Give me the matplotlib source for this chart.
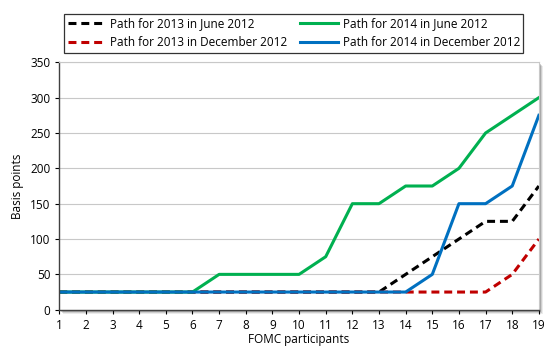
import matplotlib.pyplot as plt
from matplotlib.patches import Rectangle
import numpy as np

plt.rcParams['font.family'] = ['Open Sans', 'DejaVu Sans']

participants = np.arange(1, 20)
june_2013 = [25] * 13 + [50, 75, 100, 125, 125, 175]
dec_2013 = [25] * 17 + [50, 100]
june_2014 = [25] * 6 + [50, 50, 50, 50, 75, 150, 150, 175, 175, 200, 250, 275, 300]
dec_2014 = [25] * 14 + [50, 150, 150, 175, 275]

fig = plt.figure(figsize=(5.59, 3.56), dpi=100)
box = [0.106, 0.13, 0.858, 0.695]
ax = fig.add_axes(box)

# soft drop shadow behind the plot area
for off, a in [(4, 0.08), (3, 0.12), (2, 0.18)]:
    fig.patches.append(Rectangle((box[0] + off / 559, box[1] - off / 356), box[2], box[3],
                                 transform=fig.transFigure, facecolor='black',
                                 alpha=a, lw=0, zorder=-5))

ax.plot(participants, june_2013, color='black', lw=2.2, ls=(0, (2.6, 1.6)),
        label='Path for 2013 in June 2012')
ax.plot(participants, dec_2013, color='#c00000', lw=2.2, ls=(0, (2.6, 1.6)),
        label='Path for 2013 in December 2012')
ax.plot(participants, june_2014, color='#00b050', lw=2.2,
        label='Path for 2014 in June 2012')
ax.plot(participants, dec_2014, color='#0070c0', lw=2.2,
        label='Path for 2014 in December 2012')

ax.set_xlim(1, 19)
ax.set_ylim(0, 350)
ax.set_xticks(participants)
ax.set_yticks(np.arange(0, 351, 50))
ax.grid(axis='y', color='#c8c8c8', lw=0.8)
ax.set_axisbelow(True)
ax.tick_params(labelsize=8.5, length=3, direction='out', width=0.8)
ax.set_xlabel('FOMC participants', fontsize=8.5, labelpad=1)
ax.set_ylabel('Basis points', fontsize=8.5, labelpad=4)
for s in ['top', 'right']:
    ax.spines[s].set_color('#c8c8c8')
for s in ['left', 'bottom']:
    ax.spines[s].set_color('#404040')
    ax.spines[s].set_linewidth(1.0)

handles, labels = ax.get_legend_handles_labels()
leg = fig.legend(handles, labels, ncol=2, loc='center',
                 bbox_to_anchor=(0.104, 0.848, 0.843, 0.118), mode='expand',
                 fontsize=8.5, frameon=True, fancybox=False, edgecolor='black',
                 handlelength=3.2, handletextpad=0.4, borderpad=0.3,
                 labelspacing=0.5, columnspacing=1.0)
leg.get_frame().set_linewidth(0.9)

fig.savefig('out.png', dpi=100)
